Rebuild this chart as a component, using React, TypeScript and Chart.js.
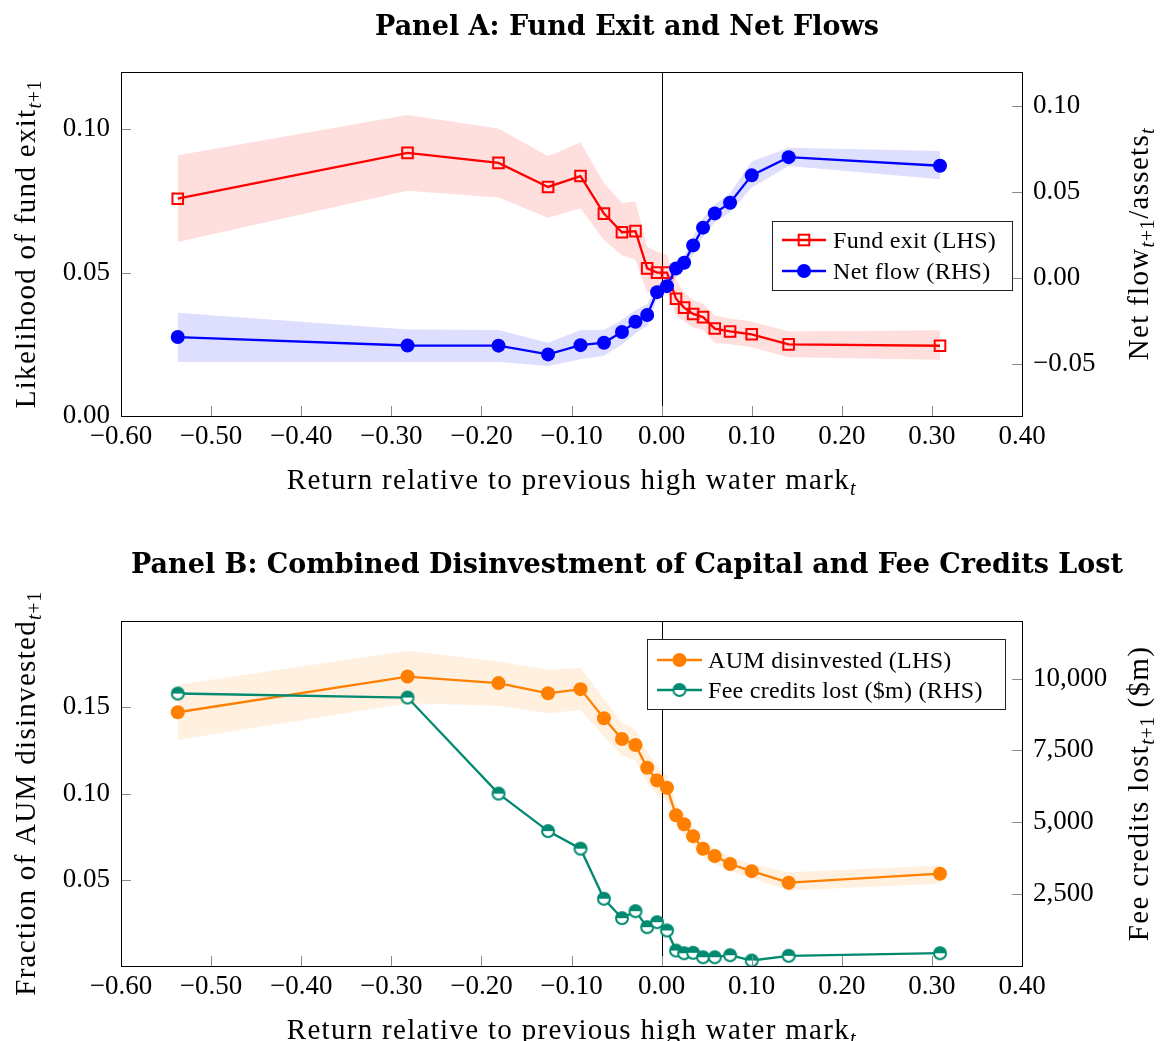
import React, { useEffect, useRef } from 'react';
import { Chart, registerables } from 'chart.js';

Chart.register(...registerables);

// ---------------- data ----------------
const returnRelHWM = [-0.537, -0.282, -0.181, -0.126, -0.090, -0.064, -0.044, -0.029, -0.016, -0.005, 0.006, 0.016, 0.025, 0.035, 0.046, 0.059, 0.076, 0.100, 0.141, 0.309];

const fundExit = [0.0758, 0.0918, 0.0883, 0.0799, 0.0837, 0.0706, 0.0641, 0.0645, 0.0515, 0.0500, 0.0500, 0.0409, 0.0378, 0.0356, 0.0345, 0.0305, 0.0295, 0.0285, 0.0250, 0.0245];
const fundExitLo = [0.0607, 0.0786, 0.0762, 0.0692, 0.0725, 0.0614, 0.0560, 0.0545, 0.0430, 0.0440, 0.0440, 0.0350, 0.0330, 0.0310, 0.0300, 0.0255, 0.0250, 0.0240, 0.0205, 0.0196];
const fundExitHi = [0.0910, 0.1050, 0.1003, 0.0906, 0.0955, 0.0813, 0.0743, 0.0748, 0.0590, 0.0573, 0.0562, 0.0475, 0.0430, 0.0405, 0.0392, 0.0351, 0.0340, 0.0330, 0.0295, 0.0299];

const netFlow = [-0.0341, -0.0390, -0.0391, -0.0442, -0.0388, -0.0374, -0.0312, -0.0252, -0.0213, -0.0080, -0.0045, 0.0058, 0.0091, 0.0192, 0.0295, 0.0378, 0.0440, 0.0599, 0.0705, 0.0655];
const netFlowLo = [-0.0486, -0.0486, -0.0486, -0.0510, -0.0470, -0.0450, -0.0385, -0.0320, -0.0275, -0.0120, -0.0085, 0.0010, 0.0045, 0.0140, 0.0240, 0.0325, 0.0385, 0.0529, 0.0653, 0.0576];
const netFlowHi = [-0.0200, -0.0297, -0.0300, -0.0374, -0.0300, -0.0300, -0.0240, -0.0185, -0.0150, -0.0040, -0.0005, 0.0100, 0.0135, 0.0245, 0.0350, 0.0430, 0.0495, 0.0680, 0.0760, 0.0740];

const aumDisinvested = [0.1471, 0.1678, 0.1640, 0.1581, 0.1605, 0.1436, 0.1316, 0.1281, 0.1149, 0.1076, 0.1033, 0.0874, 0.0822, 0.0752, 0.0680, 0.0637, 0.0591, 0.0550, 0.0483, 0.0535];
const aumLo = [0.1310, 0.1523, 0.1508, 0.1465, 0.1484, 0.1330, 0.1220, 0.1190, 0.1060, 0.0990, 0.0960, 0.0810, 0.0760, 0.0700, 0.0630, 0.0590, 0.0550, 0.0510, 0.0438, 0.0477];
const aumHi = [0.1630, 0.1827, 0.1765, 0.1717, 0.1727, 0.1550, 0.1410, 0.1370, 0.1240, 0.1155, 0.1110, 0.0940, 0.0880, 0.0810, 0.0730, 0.0680, 0.0635, 0.0590, 0.0544, 0.0583];

const feeCreditsLost = [9478, 9338, 5996, 4693, 4081, 2340, 1664, 1908, 1351, 1525, 1236, 539, 445, 459, 306, 306, 376, 191, 355, 445];

const xTickValues = [-0.6, -0.5, -0.4, -0.3, -0.2, -0.1, 0, 0.1, 0.2, 0.3, 0.4];
const exitTickValues = [0, 0.05, 0.1];
const flowTickValues = [-0.05, 0, 0.05, 0.1];
const aumTickValues = [0.05, 0.1, 0.15];
const feeTickValues = [2500, 5000, 7500, 10000];

const titleA = 'Panel A: Fund Exit and Net Flows';
const titleB = 'Panel B: Combined Disinvestment of Capital and Fee Credits Lost';
const legendA = ['Fund exit (LHS)', 'Net flow (RHS)'];
const legendB = ['AUM disinvested (LHS)', 'Fee credits lost ($m) (RHS)'];

// ---------------- styling ----------------
const SERIF = '"Liberation Serif", "Times New Roman", serif';
const BOLD_SERIF = '"DejaVu Serif", serif';
const RED = '#ff0000';
const BLUE = '#0000ff';
const ORANGE = '#ff8000';
const TEAL = '#008a70';
const LW = 2.3;

type Seg = { t: string; sub?: boolean; it?: boolean };

const fmtFixed = (v: number) => (v < -1e-9 ? '\u2212' : '') + Math.abs(v).toFixed(2);
const fmtThousands = (v: number) => Math.round(v).toLocaleString('en-US');

function halfCircleImage(color: string, r: number, lw: number) {
  const size = Math.ceil(2 * (r + lw)) + 2;
  const c = document.createElement('canvas');
  c.width = size;
  c.height = size;
  const g = c.getContext('2d')!;
  const cx = size / 2, cy = size / 2;
  g.beginPath(); g.arc(cx, cy, r, 0, Math.PI * 2); g.fillStyle = '#fff'; g.fill();
  g.beginPath(); g.arc(cx, cy, r, Math.PI, Math.PI * 2); g.closePath(); g.fillStyle = color; g.fill();
  g.beginPath(); g.arc(cx, cy, r, 0, Math.PI * 2); g.lineWidth = lw; g.strokeStyle = color; g.stroke();
  return c;
}

function drawRich(ctx: CanvasRenderingContext2D, segs: Seg[], x: number, y: number, size: number, rotate: boolean, spacing: number) {
  ctx.save();
  ctx.translate(x, y);
  if (rotate) ctx.rotate(-Math.PI / 2);
  ctx.fillStyle = '#000';
  ctx.textBaseline = 'alphabetic';
  ctx.textAlign = 'left';
  const fontOf = (s: Seg) => `${s.it ? 'italic ' : ''}${s.sub ? Math.round(size * 0.7) : size}px ${SERIF}`;
  let w = 0;
  for (const s of segs) {
    ctx.font = fontOf(s);
    (ctx as any).letterSpacing = (s.sub ? spacing * 0.5 : spacing) + 'px';
    w += ctx.measureText(s.t).width;
  }
  let cx = -w / 2;
  for (const s of segs) {
    ctx.font = fontOf(s);
    (ctx as any).letterSpacing = (s.sub ? spacing * 0.5 : spacing) + 'px';
    ctx.fillText(s.t, cx, s.sub ? size * 0.22 : 0);
    cx += ctx.measureText(s.t).width;
  }
  ctx.restore();
}

function drawMarker(ctx: CanvasRenderingContext2D, kind: string, color: string, x: number, y: number) {
  ctx.save();
  if (kind === 'rect') {
    ctx.strokeStyle = color; ctx.lineWidth = 2;
    ctx.strokeRect(x - 5.3, y - 5.3, 10.6, 10.6);
  } else if (kind === 'circle') {
    ctx.fillStyle = color; ctx.beginPath(); ctx.arc(x, y, 7, 0, Math.PI * 2); ctx.fill();
  } else {
    const img = halfCircleImage(color, 6, 2);
    ctx.drawImage(img, x - img.width / 2, y - img.height / 2);
  }
  ctx.restore();
}

type LegendSpec = { box: [number, number, number, number]; rows: { label: string; color: string; kind: string; y: number }[]; lineX: [number, number]; textX: number };

function drawLegend(ctx: CanvasRenderingContext2D, L: LegendSpec) {
  ctx.save();
  const [l, t, r, b] = L.box;
  ctx.fillStyle = '#fff';
  ctx.fillRect(l, t, r - l, b - t);
  ctx.strokeStyle = '#222';
  ctx.lineWidth = 1;
  ctx.strokeRect(l + 0.5, t + 0.5, r - l, b - t);
  for (const row of L.rows) {
    ctx.strokeStyle = row.color; ctx.lineWidth = LW;
    ctx.beginPath(); ctx.moveTo(L.lineX[0], row.y); ctx.lineTo(L.lineX[1], row.y); ctx.stroke();
    drawMarker(ctx, row.kind, row.color, (L.lineX[0] + L.lineX[1]) / 2, row.y);
    ctx.fillStyle = '#000';
    ctx.font = `24px ${SERIF}`;
    (ctx as any).letterSpacing = '0.3px';
    ctx.textBaseline = 'alphabetic';
    ctx.textAlign = 'left';
    ctx.fillText(row.label, L.textX, row.y + 8);
  }
  ctx.restore();
}

type Decor = {
  title: string; titleY: number;
  xTitle: Seg[]; xTitleY: number;
  yTitle: Seg[]; y1Title: Seg[];
  legend: LegendSpec;
};

function decorPlugin(d: Decor) {
  return {
    id: 'decor',
    beforeDatasetsDraw(chart: any) {
      const { ctx, chartArea: a, scales } = chart;
      const x0 = Math.round(scales.x.getPixelForValue(0)) + 0.5;
      ctx.save();
      ctx.strokeStyle = '#000'; ctx.lineWidth = 1;
      ctx.beginPath(); ctx.moveTo(x0, a.top); ctx.lineTo(x0, a.bottom); ctx.stroke();
      ctx.restore();
    },
    afterDraw(chart: any) {
      const { ctx, chartArea: a, scales } = chart;
      ctx.save();
      // inward ticks
      ctx.strokeStyle = '#8c8c8c'; ctx.lineWidth = 1;
      const TL = 10;
      const inside = (p: number, lo: number, hi: number) => p > lo + 1 && p < hi - 1;
      for (const t of scales.x.ticks) {
        const p = Math.round(scales.x.getPixelForValue(t.value)) + 0.5;
        if (!inside(p, a.left, a.right)) continue;
        ctx.beginPath(); ctx.moveTo(p, a.bottom); ctx.lineTo(p, a.bottom - TL); ctx.stroke();
      }
      for (const t of scales.y.ticks) {
        const p = Math.round(scales.y.getPixelForValue(t.value)) + 0.5;
        if (!inside(p, a.top, a.bottom)) continue;
        ctx.beginPath(); ctx.moveTo(a.left, p); ctx.lineTo(a.left + TL, p); ctx.stroke();
      }
      for (const t of scales.y1.ticks) {
        const p = Math.round(scales.y1.getPixelForValue(t.value)) + 0.5;
        if (!inside(p, a.top, a.bottom)) continue;
        ctx.beginPath(); ctx.moveTo(a.right, p); ctx.lineTo(a.right - TL, p); ctx.stroke();
      }
      // frame
      ctx.strokeStyle = '#000'; ctx.lineWidth = 1;
      ctx.strokeRect(Math.round(a.left) + 0.5, Math.round(a.top) + 0.5, Math.round(a.right - a.left), Math.round(a.bottom - a.top));
      // title
      ctx.fillStyle = '#000';
      ctx.font = `bold 27px ${BOLD_SERIF}`;
      ctx.textAlign = 'center';
      ctx.textBaseline = 'alphabetic';
      ctx.fillText(d.title, 627, d.titleY);
      ctx.restore();
      const cy = (a.top + a.bottom) / 2;
      drawRich(ctx, d.xTitle, (a.left + a.right) / 2, d.xTitleY, 29, false, 1.3);
      drawRich(ctx, d.yTitle, 35, cy, 29, true, 1.3);
      drawRich(ctx, d.y1Title, 1148, cy, 29, true, 1.3);
      drawLegend(ctx, d.legend);
    },
  };
}

const pts = (ys: number[]) => returnRelHWM.map((x, i) => ({ x, y: ys[i] }));
const tickFont = { family: SERIF, size: 27 };

function xScale(height: number) {
  return {
    type: 'linear', position: 'bottom', min: -0.6, max: 0.4,
    grid: { display: false, drawTicks: false }, border: { display: false },
    afterBuildTicks: (s: any) => { s.ticks = xTickValues.map((value) => ({ value })); },
    afterFit: (s: any) => { s.height = height; },
    ticks: { color: '#000', font: tickFont, padding: 5, maxRotation: 0, autoSkip: false, callback: (v: any) => fmtFixed(Number(v)) },
  };
}

function yScale(pos: string, min: number, max: number, vals: number[], width: number, fmt: (v: number) => string) {
  return {
    type: 'linear', position: pos, min, max,
    grid: { display: false, drawTicks: false }, border: { display: false },
    afterBuildTicks: (s: any) => { s.ticks = vals.map((value) => ({ value })); },
    afterFit: (s: any) => { s.width = width; },
    ticks: { color: '#000', font: tickFont, padding: 11, callback: (v: any) => fmt(Number(v)) },
  };
}

const lineDs = (label: string, data: any[], axis: string, color: string, extra: any, order: number) => ({
  label, data, yAxisID: axis, borderColor: color, borderWidth: LW, fill: false, tension: 0, order, ...extra,
});
const bandDs = (data: any[], axis: string, fill: any, bg: string) => ({
  label: '', data, yAxisID: axis, borderWidth: 0, borderColor: 'rgba(0,0,0,0)', pointRadius: 0, fill, backgroundColor: bg, tension: 0, order: 10,
});

function baseOptions(padTop: number, xHeight: number, y: any, y1: any) {
  return {
    responsive: false, animation: false, devicePixelRatio: 1, events: [],
    layout: { padding: { top: padTop, left: 0, right: 0, bottom: 0 } },
    plugins: { legend: { display: false }, tooltip: { enabled: false }, title: { display: false }, filler: { drawTime: 'beforeDatasetsDraw' } },
    scales: { x: xScale(xHeight), y, y1 },
  };
}

function buildA(canvas: HTMLCanvasElement) {
  const H = 520;
  const top = 72, bottom = 416;
  return new Chart(canvas, {
    type: 'line',
    data: {
      datasets: [
        lineDs(legendA[0], pts(fundExit), 'y', RED, { pointStyle: 'rect', pointRadius: 7.5, pointBorderWidth: 2, pointBorderColor: RED, pointBackgroundColor: 'rgba(0,0,0,0)' }, 2),
        lineDs(legendA[1], pts(netFlow), 'y1', BLUE, { pointStyle: 'circle', pointRadius: 7, pointBorderWidth: 0, pointBackgroundColor: BLUE }, 1),
        bandDs(pts(fundExitLo), 'y', false, 'rgba(0,0,0,0)'),
        bandDs(pts(fundExitHi), 'y', '-1', 'rgba(255,0,0,0.13)'),
        bandDs(pts(netFlowLo), 'y1', false, 'rgba(0,0,0,0)'),
        bandDs(pts(netFlowHi), 'y1', '-1', 'rgba(0,0,255,0.13)'),
      ],
    },
    options: baseOptions(top, H - bottom,
      yScale('left', 0, 0.12, exitTickValues, 121, fmtFixed),
      yScale('right', -0.08, 0.12, flowTickValues, 140, fmtFixed)) as any,
    plugins: [decorPlugin({
      title: titleA, titleY: 35,
      xTitle: [{ t: 'Return relative to previous high water mark' }, { t: 't', sub: true, it: true }], xTitleY: 489,
      yTitle: [{ t: 'Likelihood of fund exit' }, { t: 't', sub: true, it: true }, { t: '+1', sub: true }],
      y1Title: [{ t: 'Net flow' }, { t: 't', sub: true, it: true }, { t: '+1', sub: true }, { t: '/assets' }, { t: 't', sub: true, it: true }],
      legend: {
        box: [772, 221, 1012, 290], lineX: [782, 826], textX: 833,
        rows: [
          { label: legendA[0], color: RED, kind: 'rect', y: 240 },
          { label: legendA[1], color: BLUE, kind: 'circle', y: 271 },
        ],
      },
    })],
  } as any);
}

function buildB(canvas: HTMLCanvasElement) {
  const H = 521;
  const top = 101, bottom = 446;
  const half = halfCircleImage(TEAL, 6, 2);
  return new Chart(canvas, {
    type: 'line',
    data: {
      datasets: [
        lineDs(legendB[0], pts(aumDisinvested), 'y', ORANGE, { pointStyle: 'circle', pointRadius: 7, pointBorderWidth: 0, pointBackgroundColor: ORANGE }, 2),
        lineDs(legendB[1], pts(feeCreditsLost), 'y1', TEAL, { pointStyle: half, pointRadius: 7 }, 1),
        bandDs(pts(aumLo), 'y', false, 'rgba(0,0,0,0)'),
        bandDs(pts(aumHi), 'y', '-1', 'rgba(255,128,0,0.12)'),
      ],
    },
    options: baseOptions(top, H - bottom,
      yScale('left', 0, 0.2, aumTickValues, 121, fmtFixed),
      yScale('right', 0, 12000, feeTickValues, 140, fmtThousands)) as any,
    plugins: [decorPlugin({
      title: titleB, titleY: 53,
      xTitle: [{ t: 'Return relative to previous high water mark' }, { t: 't', sub: true, it: true }], xTitleY: 519,
      yTitle: [{ t: 'Fraction of AUM disinvested' }, { t: 't', sub: true, it: true }, { t: '+1', sub: true }],
      y1Title: [{ t: 'Fee credits lost' }, { t: 't', sub: true, it: true }, { t: '+1', sub: true }, { t: ' ($m)' }],
      legend: {
        box: [647, 119, 1005, 189], lineX: [657, 702], textX: 708,
        rows: [
          { label: legendB[0], color: ORANGE, kind: 'circle', y: 140 },
          { label: legendB[1], color: TEAL, kind: 'half', y: 170 },
        ],
      },
    })],
  } as any);
}

function PanelCanvas({ top, height, build }: { top: number; height: number; build: (c: HTMLCanvasElement) => Chart }) {
  const ref = useRef<HTMLCanvasElement>(null);
  useEffect(() => {
    const chart = build(ref.current!);
    return () => chart.destroy();
  }, []);
  return <canvas ref={ref} width={1162} height={height} style={{ position: 'absolute', left: 0, top, width: 1162, height }} />;
}

export default function App() {
  return (
    <div style={{ position: 'absolute', left: 0, top: 0, width: 1162, height: 1041, background: '#fff', overflow: 'hidden' }}>
      <PanelCanvas top={0} height={520} build={buildA} />
      <PanelCanvas top={520} height={521} build={buildB} />
    </div>
  );
}
